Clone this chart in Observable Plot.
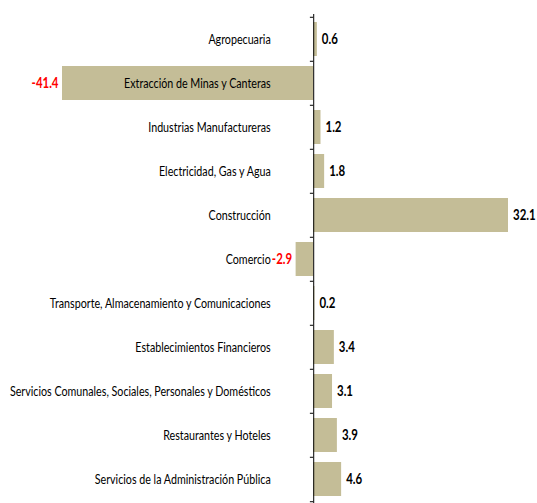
<!DOCTYPE html>
<html>
<head>
<meta charset="utf-8">
<script src="https://cdn.jsdelivr.net/npm/d3@7"></script>
<script src="https://cdn.jsdelivr.net/npm/@observablehq/plot@0.6"></script>
<style>
  html, body { margin: 0; padding: 0; background: #ffffff; }
  #chart svg { display: block; }
</style>
</head>
<body>
<div id="chart"></div>
<script>
const categories = [
  "Agropecuaria",
  "Extracción de Minas y Canteras",
  "Industrias Manufactureras",
  "Electricidad, Gas y Agua",
  "Construcción",
  "Comercio",
  "Transporte, Almacenamiento y Comunicaciones",
  "Establecimientos Financieros",
  "Servicios Comunales, Sociales, Personales y Domésticos",
  "Restaurantes y Hoteles",
  "Servicios de la Administración Pública"
];
const values = [0.6, -41.4, 1.2, 1.8, 32.1, -2.9, 0.2, 3.4, 3.1, 3.9, 4.6];

const data = categories.map((c, i) => ({category: c, value: values[i]}));

const W = 537, H = 503, mTop = 14, mBottom = 0;
const step = (H - mTop - mBottom) / categories.length;
const font = "Lato, 'Liberation Sans', sans-serif";

const chart = Plot.plot({
  width: W,
  height: H,
  marginTop: mTop,
  marginBottom: mBottom,
  marginLeft: 62,
  marginRight: 29,
  style: {background: "#ffffff", fontFamily: font},
  x: {domain: [-41.4, 32.1], axis: null},
  y: {domain: categories, axis: null, paddingInner: 0.23, paddingOuter: 0.115},
  marks: [
    Plot.barX(data, {x: "value", y: "category", fill: "#c4bd97"}),
    Plot.ruleX([0], {stroke: "#000000", strokeWidth: 1}),
    Plot.ruleY(categories, {y: d => d, x1: -0.55, x2: 0, dy: -step / 2, stroke: "#000000"}),
    Plot.ruleY([categories[categories.length - 1]], {y: d => d, x1: -0.55, x2: 0, dy: step / 2, stroke: "#000000"}),
    Plot.text(data, {
      x: () => 0, y: "category", text: "category",
      textAnchor: "end", dx: -43, fontSize: 13.5, fill: "#000000"
    }),
    Plot.text(data.filter(d => d.value >= 0), {
      x: "value", y: "category", text: d => d.value.toFixed(1),
      textAnchor: "start", dx: 4.5, fontSize: 15, fontWeight: "bold", fill: "#000000"
    }),
    Plot.text(data.filter(d => d.value < 0), {
      x: "value", y: "category", text: d => d.value.toFixed(1),
      textAnchor: "end", dx: -4, fontSize: 15, fontWeight: "bold", fill: "#ff0000"
    })
  ]
});
document.getElementById("chart").appendChild(chart);

// Condense text horizontally (the reference uses a narrow face)
const groups = chart.querySelectorAll('g[aria-label="text"]');
function condense(group, sx) {
  if (!isFinite(sx) || sx <= 0) return;
  group.querySelectorAll("text").forEach(t => {
    const tr = t.getAttribute("transform") || "";
    t.setAttribute("transform", `${tr} scale(${sx},1)`);
  });
}
function widthOf(group, str) {
  for (const t of group.querySelectorAll("text")) {
    if (t.textContent === str) return t.getComputedTextLength();
  }
  return null;
}
const catW = widthOf(groups[0], categories[8]);
if (catW) condense(groups[0], 261 / catW);
const valW = widthOf(groups[1], "0.6");
if (valW) { condense(groups[1], 16 / valW); condense(groups[2], 16 / valW); }
</script>
</body>
</html>
